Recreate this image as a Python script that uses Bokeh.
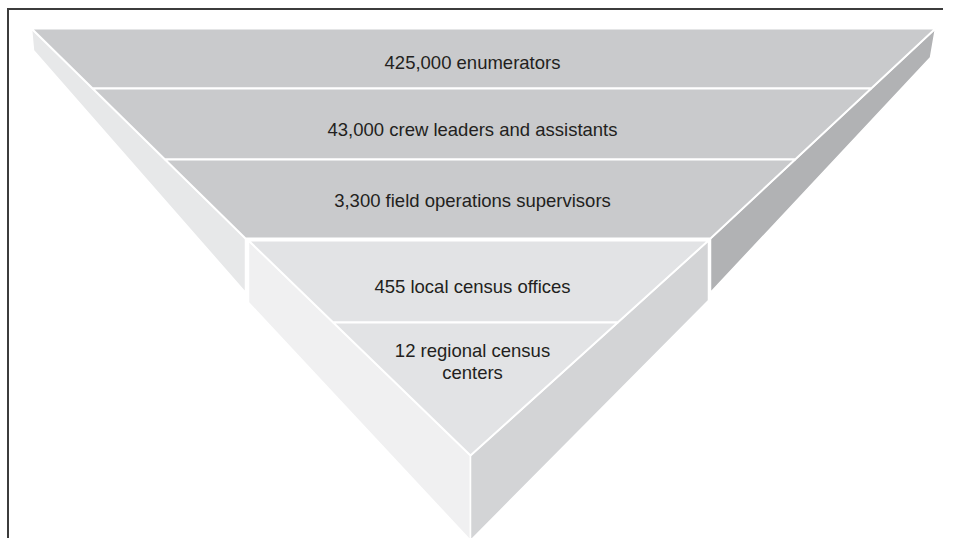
from bokeh.plotting import figure
from bokeh.models import Range1d
from bokeh.embed import file_html
from bokeh.resources import INLINE
from bokeh.core.properties import value

# ---------------- DATA ----------------
layer_labels = [
    "425,000 enumerators",
    "43,000 crew leaders and assistants",
    "3,300 field operations supervisors",
    "455 local census offices",
    "12 regional census\ncenters",
]

# ---------------- LAYOUT (pixel coordinates of the picture) ----------------
W, H = 943, 538

# upper slab (three layers)
UP_TOP_Y, UP_BOT_Y = 28, 238
UP_TOP_L, UP_TOP_R = 31, 935
UP_BOT_L, UP_BOT_R = 245, 710
UP_DIVS = [88, 159]
UP_DEPTH_TOP_L, UP_DEPTH_TOP_R, UP_DEPTH_BOT = 22, 29, 54
UP_SHIFT_L, UP_SHIFT_R = 2, -5

# lower slab (two layers)
LO_TOP_Y, LO_APEX_Y = 240, 455
LO_TOP_L, LO_TOP_R, LO_APEX_X = 248, 708, 470
LO_DIVS = [322]
LO_DEPTH_L, LO_DEPTH_R, LO_DEPTH_APEX = 62, 60, 85

LABEL_X = 472
LABEL_BASELINES = [62, 129, 200, 285.5, 350]
LINE_GAP = 22
FONT = "Liberation Sans"
FONT_SIZE = "18.5px"

RULE_X, RULE_Y = 7.5, 8.5

C_UP_FACE, C_UP_LEFT, C_UP_RIGHT = "#c9cacc", "#e7e8e9", "#b1b2b4"
C_LO_FACE, C_LO_LEFT, C_LO_RIGHT = "#e2e3e5", "#f0f0f1", "#d3d4d6"
EDGE = "white"


def lerp(a, b, t):
    return a + (b - a) * t


def edge_x(y, ya, yb, xa, xb):
    return lerp(xa, xb, (y - ya) / (yb - ya))


p = figure(width=W, height=H, output_backend="svg", toolbar_location=None,
           x_range=Range1d(0, W), y_range=Range1d(H, 0),
           x_axis_location=None, y_axis_location=None, min_border=0,
           title=None)
p.grid.visible = False
p.outline_line_color = None
p.background_fill_color = "white"
p.border_fill_color = "white"

# ---- side faces ----
side_xs, side_ys, side_c = [], [], []
side_xs.append([UP_TOP_L, UP_BOT_L, UP_BOT_L, UP_TOP_L + UP_SHIFT_L])
side_ys.append([UP_TOP_Y, UP_BOT_Y, UP_BOT_Y + UP_DEPTH_BOT, UP_TOP_Y + UP_DEPTH_TOP_L])
side_c.append(C_UP_LEFT)
side_xs.append([UP_TOP_R, UP_BOT_R, UP_BOT_R, UP_TOP_R + UP_SHIFT_R])
side_ys.append([UP_TOP_Y, UP_BOT_Y, UP_BOT_Y + UP_DEPTH_BOT, UP_TOP_Y + UP_DEPTH_TOP_R])
side_c.append(C_UP_RIGHT)
side_xs.append([LO_TOP_L, LO_APEX_X, LO_APEX_X, LO_TOP_L])
side_ys.append([LO_TOP_Y, LO_APEX_Y, LO_APEX_Y + LO_DEPTH_APEX, LO_TOP_Y + LO_DEPTH_L])
side_c.append(C_LO_LEFT)
side_xs.append([LO_TOP_R, LO_APEX_X, LO_APEX_X, LO_TOP_R])
side_ys.append([LO_TOP_Y, LO_APEX_Y, LO_APEX_Y + LO_DEPTH_APEX, LO_TOP_Y + LO_DEPTH_R])
side_c.append(C_LO_RIGHT)

p.patches(side_xs, side_ys, fill_color=side_c, line_color=EDGE, line_width=1.5)

# ---- front faces (layers) ----
face_xs, face_ys, face_c = [], [], []
up_bounds = [UP_TOP_Y] + UP_DIVS + [UP_BOT_Y]
for ya, yb in zip(up_bounds[:-1], up_bounds[1:]):
    la = edge_x(ya, UP_TOP_Y, UP_BOT_Y, UP_TOP_L, UP_BOT_L)
    lb = edge_x(yb, UP_TOP_Y, UP_BOT_Y, UP_TOP_L, UP_BOT_L)
    ra = edge_x(ya, UP_TOP_Y, UP_BOT_Y, UP_TOP_R, UP_BOT_R)
    rb = edge_x(yb, UP_TOP_Y, UP_BOT_Y, UP_TOP_R, UP_BOT_R)
    face_xs.append([la, ra, rb, lb])
    face_ys.append([ya, ya, yb, yb])
    face_c.append(C_UP_FACE)

lo_bounds = [LO_TOP_Y] + LO_DIVS + [LO_APEX_Y]
for ya, yb in zip(lo_bounds[:-1], lo_bounds[1:]):
    la = edge_x(ya, LO_TOP_Y, LO_APEX_Y, LO_TOP_L, LO_APEX_X)
    lb = edge_x(yb, LO_TOP_Y, LO_APEX_Y, LO_TOP_L, LO_APEX_X)
    ra = edge_x(ya, LO_TOP_Y, LO_APEX_Y, LO_TOP_R, LO_APEX_X)
    rb = edge_x(yb, LO_TOP_Y, LO_APEX_Y, LO_TOP_R, LO_APEX_X)
    face_xs.append([la, ra, rb, lb])
    face_ys.append([ya, ya, yb, yb])
    face_c.append(C_LO_FACE)

p.patches(face_xs, face_ys, fill_color=face_c, line_color=EDGE, line_width=2)

# ---- labels ----
tx, ty, tt = [], [], []
for label, base in zip(layer_labels, LABEL_BASELINES):
    for i, line in enumerate(label.split("\n")):
        tx.append(LABEL_X)
        ty.append(base + i * LINE_GAP)
        tt.append(line)
p.text(x=tx, y=ty, text=tt, text_align="center", text_baseline="alphabetic",
       text_font=value(FONT), text_font_size=FONT_SIZE, text_color="#231f20")

# ---- frame (top and left rules) ----
p.segment(x0=[RULE_X - 1, RULE_X], y0=[RULE_Y, RULE_Y - 1],
          x1=[W, RULE_X], y1=[RULE_Y, H],
          line_color="#3c3c3c", line_width=2)

open("out.html", "w").write(file_html(p, INLINE))
